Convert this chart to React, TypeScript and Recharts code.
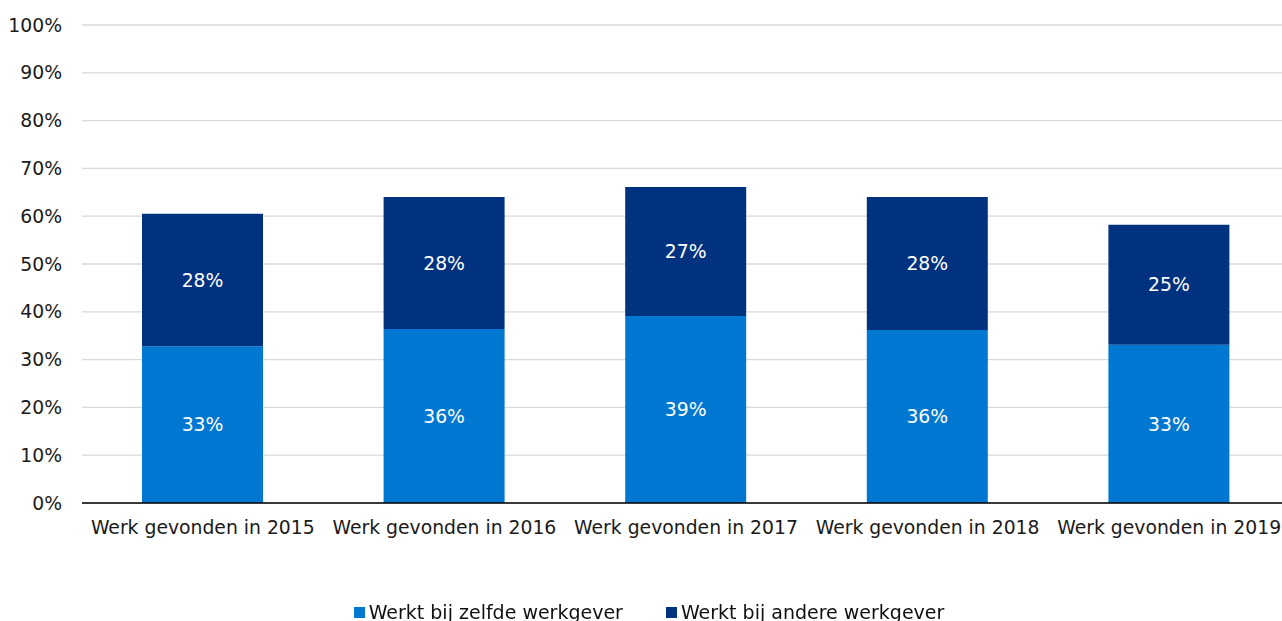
import { BarChart, Bar, XAxis, YAxis, CartesianGrid, Legend, LabelList } from "recharts";

const categories = [
    "Werk gevonden in 2015",
    "Werk gevonden in 2016",
    "Werk gevonden in 2017",
    "Werk gevonden in 2018",
    "Werk gevonden in 2019",
];
const zelfdeWerkgever = [32.8, 36.4, 39.1, 36.2, 33.1];
const andereWerkgever = [27.7, 27.6, 27.0, 27.8, 25.1];
const yTicks = [0, 10, 20, 30, 40, 50, 60, 70, 80, 90, 100];

const series = [
    { key: "zelfde", name: "Werkt bij zelfde werkgever", color: "#0078D2" },
    { key: "andere", name: "Werkt bij andere werkgever", color: "#00327F" },
];

const data = categories.map((cat, i) => ({
    cat,
    zelfde: zelfdeWerkgever[i],
    andere: andereWerkgever[i],
}));

const font = "'DejaVu Sans', Verdana, sans-serif";

const pct = (v: any) => `${Math.round(Number(v))}%`;

const CustomLegend = () => (
    <div style={{ display: "flex", justifyContent: "center", fontFamily: font, fontSize: 19, color: "#111" }}>
        {series.map((s, i) => (
            <div key={s.key} style={{ display: "flex", alignItems: "center", marginLeft: i ? 43 : 0 }}>
                <span style={{ width: 11, height: 11, background: s.color, display: "inline-block", marginRight: 4 }} />
                <span>{s.name}</span>
            </div>
        ))}
    </div>
);

const App = () => {
    return (
        <div style={{ position: "fixed", left: 0, top: 0, background: "#fff" }}>
            <BarChart
                width={1282}
                height={621}
                data={data}
                margin={{ top: 25, right: -8, left: 0, bottom: 88 }}
            >
                <CartesianGrid vertical={false} stroke="#d9d9d9" strokeWidth={1.3} />
                <XAxis
                    dataKey="cat"
                    height={30}
                    tickLine={false}
                    tickSize={0}
                    tickMargin={18}
                    axisLine={{ stroke: "#000", strokeWidth: 1.3 }}
                    tick={{ fill: "#1a1a1a", fontSize: 18.8, fontFamily: font }}
                    interval={0}
                />
                <YAxis
                    width={82}
                    domain={[0, 100]}
                    ticks={yTicks}
                    tickFormatter={(v: number) => `${v}%`}
                    axisLine={false}
                    tickLine={false}
                    tickSize={0}
                    tickMargin={20}
                    tick={{ fill: "#1a1a1a", fontSize: 18.8, fontFamily: font }}
                />
                <Legend
                    layout="horizontal"
                    verticalAlign="middle"
                    align="center"
                    content={<CustomLegend />}
                    wrapperStyle={{ top: 601, left: 8, width: 1282 }}
                />
                {series.map((s) => (
                    <Bar
                        key={s.key}
                        dataKey={s.key}
                        name={s.name}
                        stackId="a"
                        fill={s.color}
                        barSize={121}
                        isAnimationActive={false}
                    >
                        <LabelList
                            dataKey={s.key}
                            position="center"
                            formatter={pct}
                            fill="#fff"
                            style={{ fontSize: 18.8, fontFamily: font }}
                        />
                    </Bar>
                ))}
            </BarChart>
        </div>
    );
};

export default App;
